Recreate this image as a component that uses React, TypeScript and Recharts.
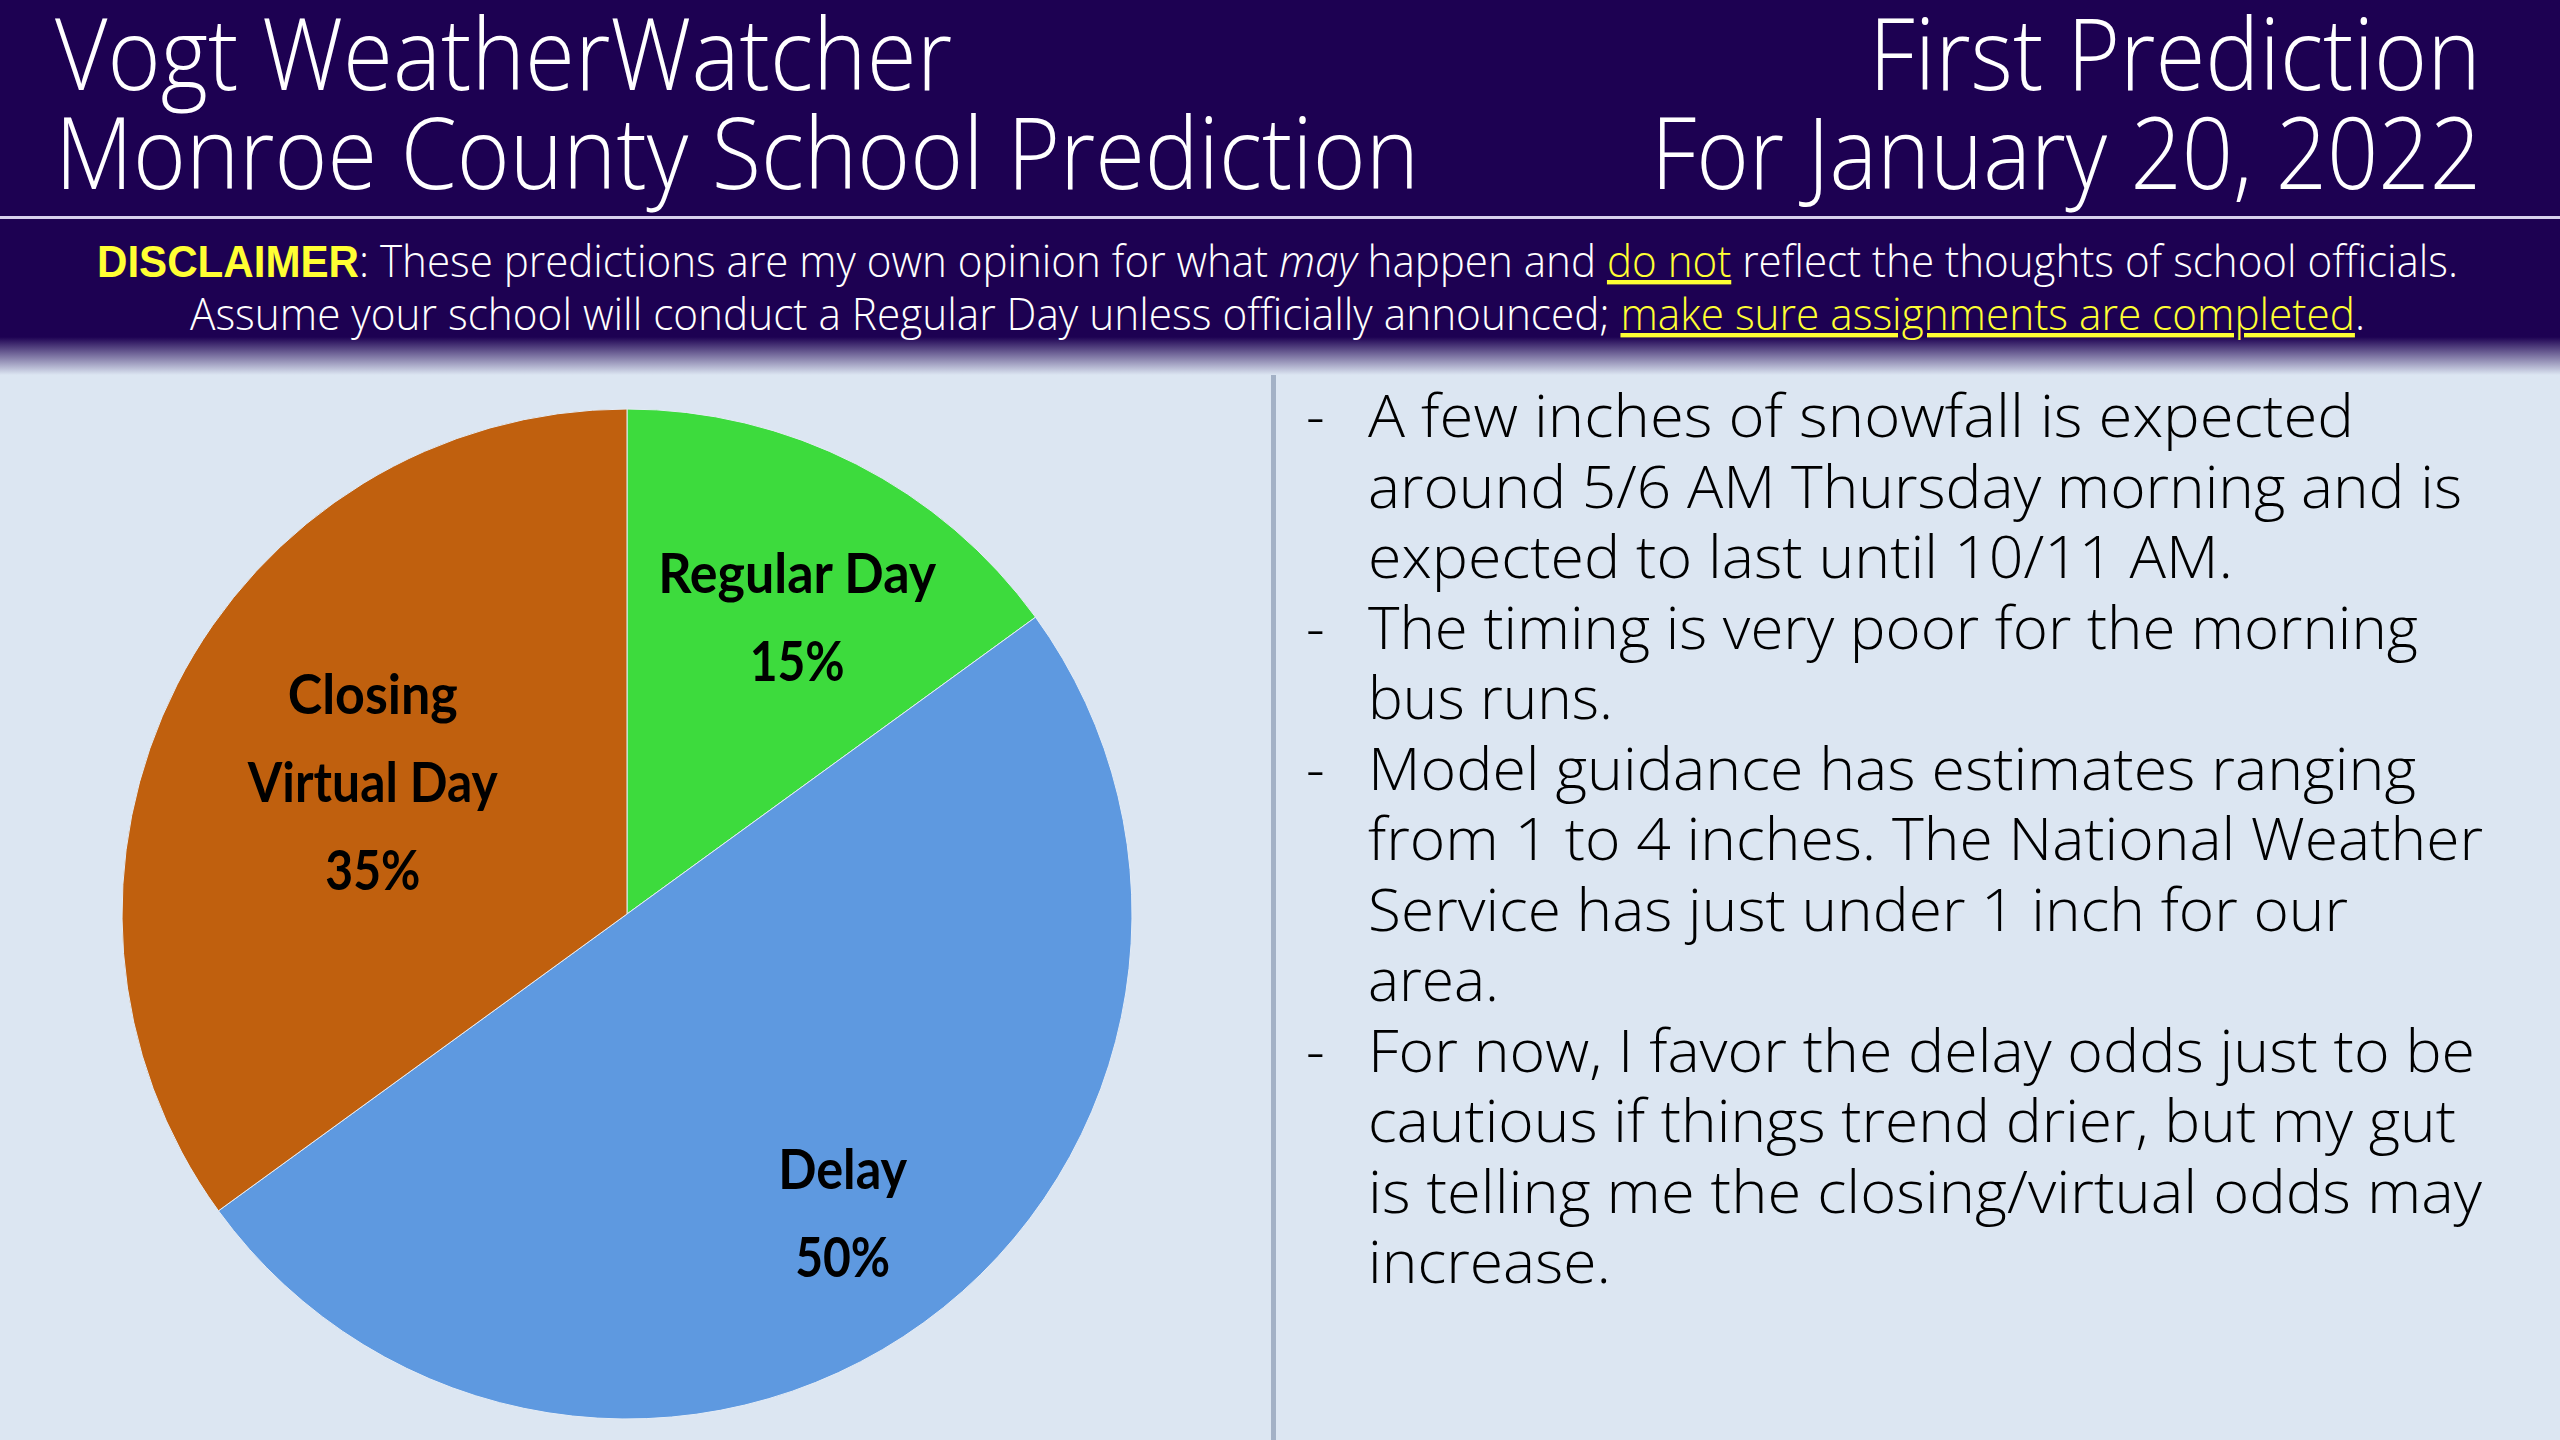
import { Cell, Pie, PieChart } from "recharts";

// pie values (percent chance)
const categories = ["Regular Day", "Delay", "Closing Virtual Day"];
const odds = [15, 50, 35];
const labelLines = [["Regular Day"], ["Delay"], ["Closing", "Virtual Day"]];
const sliceColors = ["#3DDB3D", "#5E99E0", "#C0600E"];

const titleLeft = ["Vogt WeatherWatcher", "Monroe County School Prediction"];
const titleRight = ["First Prediction", "For January 20, 2022"];

// right-hand notes, one entry per printed line; true = starts a bullet
const noteLines = [
  "A few inches of snowfall is expected",
  "around 5/6 AM Thursday morning and is",
  "expected to last until 10/11 AM.",
  "The timing is very poor for the morning",
  "bus runs.",
  "Model guidance has estimates ranging",
  "from 1 to 4 inches. The National Weather",
  "Service has just under 1 inch for our",
  "area.",
  "For now, I favor the delay odds just to be",
  "cautious if things trend drier, but my gut",
  "is telling me the closing/virtual odds may",
  "increase.",
];
const noteBullets = [true, false, false, true, false, true, false, false, false, true, false, false, false];

const data = categories.map((name, i) => ({ name, value: odds[i] }));

// layout constants (px in the 2560x1440 frame)
const NAVY = "#1D0152";
const BG = "#DCE6F2";
const noteWidths = [986, 1094, 865, 1050, 245, 1048, 1115, 980, 131, 1107, 1088, 1114, 243];
const labelRadius = [0.69, 0.74, 0.556];
const labelNudge = [
  [12, 12],
  [-4, -4],
  [-4, -6],
];
const labelWidths = [[278, 95], [129, 95], [170, 250, 95]];

const RADIAN = Math.PI / 180;

function renderLabel(props: any) {
  const { cx, cy, midAngle, outerRadius, index, value } = props;
  const r = outerRadius * labelRadius[index];
  const x = cx + r * Math.cos(-midAngle * RADIAN) + labelNudge[index][0];
  const y = cy + r * Math.sin(-midAngle * RADIAN) + labelNudge[index][1];
  const lines = [...labelLines[index], `${value}%`];
  const step = 88;
  const top = y - ((lines.length - 1) * step) / 2;
  return (
    <g key={`lbl-${index}`}>
      {lines.map((t, j) => (
        <text
          key={j}
          x={x}
          y={top + j * step}
          textAnchor="middle"
          dominantBaseline="central"
          fill="#000"
          fontFamily="Lato, 'Liberation Sans Narrow', sans-serif"
          fontWeight={700}
          fontSize={55}
          textLength={labelWidths[index][j]}
          lengthAdjust="spacingAndGlyphs"
        >
          {t}
        </text>
      ))}
    </g>
  );
}

const lightFont = "'Open Sans', 'Noto Sans', sans-serif";

function Backdrop() {
  return (
    <svg width={2560} height={1440} style={{ position: "absolute", left: 0, top: 0 }}>
      <defs>
        <linearGradient id="fade" x1="0" y1="0" x2="0" y2="1">
          <stop offset="0%" stopColor={NAVY} />
          <stop offset="100%" stopColor={BG} />
        </linearGradient>
      </defs>
      <rect x={0} y={0} width={2560} height={1440} fill={BG} />
      {/* divider */}
      <rect x={1271} y={340} width={5} height={1100} fill="#A3B1C6" />
      <rect x={0} y={0} width={2560} height={338} fill={NAVY} />
      <rect x={0} y={337} width={2560} height={38} fill="url(#fade)" />
      <rect x={0} y={216} width={2560} height={3} fill="#D8D0EE" />

      {titleLeft.map((t, i) => (
        <text
          key={t}
          x={55}
          y={90 + i * 99}
          fill="#fff"
          fontFamily={lightFont}
          fontWeight={300}
          fontSize={100}
          textLength={i === 0 ? 897 : 1364}
          lengthAdjust="spacingAndGlyphs"
        >
          {t}
        </text>
      ))}
      {titleRight.map((t, i) => (
        <text
          key={t}
          x={i === 0 ? 1869 : 1651}
          y={90 + i * 99}
          fill="#fff"
          fontFamily={lightFont}
          fontWeight={300}
          fontSize={100}
          textLength={i === 0 ? 612 : 830}
          lengthAdjust="spacingAndGlyphs"
        >
          {t}
        </text>
      ))}

      <text
        x={97}
        y={277}
        fill="#fff"
        fontFamily={lightFont}
        fontWeight={300}
        fontSize={44}
        textLength={2361}
        lengthAdjust="spacingAndGlyphs"
      >
        <tspan fill="#FFFF33" fontWeight={700} fontFamily="'Liberation Sans', Arial, sans-serif">
          DISCLAIMER
        </tspan>
        <tspan>: These predictions are my own opinion for what </tspan>
        <tspan fontStyle="italic">may</tspan>
        <tspan> happen and </tspan>
        <tspan fill="#FFFF33" textDecoration="underline">
          do not
        </tspan>
        <tspan> reflect the thoughts of school officials.</tspan>
      </text>
      <text
        x={190}
        y={330}
        fill="#fff"
        fontFamily={lightFont}
        fontWeight={300}
        fontSize={44}
        textLength={2175}
        lengthAdjust="spacingAndGlyphs"
      >
        <tspan>Assume your school will conduct a Regular Day unless officially announced; </tspan>
        <tspan fill="#FFFF33" textDecoration="underline">
          make sure assignments are completed
        </tspan>
        <tspan>.</tspan>
      </text>

      {noteLines.map((t, i) => (
        <g key={i}>
          {noteBullets[i] && (
            <text x={1306} y={437 + i * 70.5} fill="#000" fontFamily={lightFont} fontWeight={300} fontSize={58}>
              -
            </text>
          )}
          <text
            x={1368}
            y={437 + i * 70.5}
            fill="#000"
            fontFamily={lightFont}
            fontWeight={300}
            fontSize={58}
            textLength={noteWidths[i]}
            lengthAdjust="spacingAndGlyphs"
          >
            {t}
          </text>
        </g>
      ))}
    </svg>
  );
}

export default function App() {
  return (
    <div style={{ position: "absolute", left: 0, top: 0, width: 2560, height: 1440, overflow: "hidden" }}>
      <Backdrop />
      <div style={{ position: "absolute", left: 0, top: 0 }}>
        <PieChart width={1260} height={1440}>
          <Pie
            data={data}
            dataKey="value"
            nameKey="name"
            cx={622}
            cy={909}
            outerRadius={505}
            startAngle={90}
            endAngle={-270}
            stroke="#E4ECF6"
            strokeWidth={1}
            label={renderLabel}
            labelLine={false}
            isAnimationActive={false}
          >
            {data.map((d, i) => (
              <Cell key={d.name} fill={sliceColors[i]} />
            ))}
          </Pie>
        </PieChart>
      </div>
    </div>
  );
}
